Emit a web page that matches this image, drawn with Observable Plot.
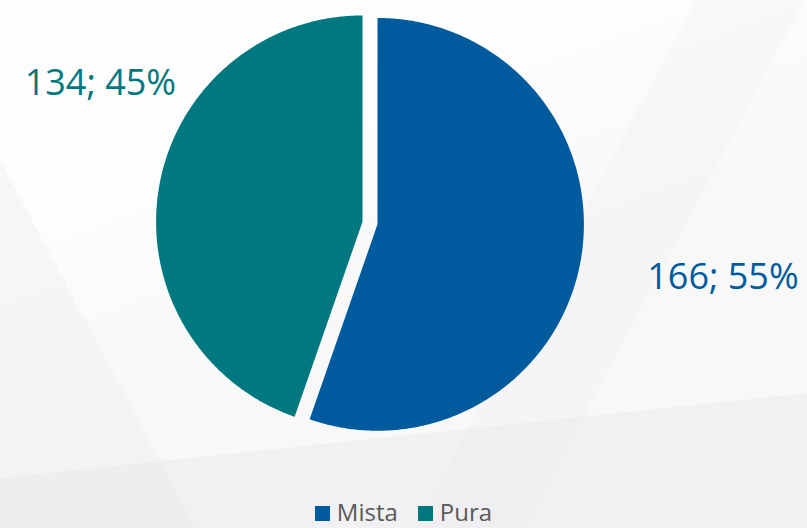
<!DOCTYPE html>
<html>
<head>
<meta charset="utf-8">
<script src="https://cdn.jsdelivr.net/npm/d3@7"></script>
<script src="https://cdn.jsdelivr.net/npm/@observablehq/plot@0.6"></script>
<style>
  html, body { margin: 0; padding: 0; }
  body {
    width: 807px; height: 528px; overflow: hidden;
    font-family: "Open Sans", sans-serif;
    background-color: #f8f8f9;
    background-image:
      linear-gradient(174deg, rgba(255,255,255,0) 78%, rgba(228,228,232,0.35) 78%),
      linear-gradient(118deg, rgba(255,255,255,0) 64%, rgba(238,238,242,0.3) 64%, rgba(238,238,242,0.3) 74%, rgba(255,255,255,0) 74%),
      linear-gradient(62deg, rgba(232,232,236,0.3) 18%, rgba(255,255,255,0) 18%),
      linear-gradient(160deg, rgba(255,255,255,0.7) 30%, rgba(255,255,255,0) 55%);
  }
  #chart svg { display: block; background: transparent; }
  #legend {
    width: 807px; height: 38px; box-sizing: border-box; padding-top: 11px;
    display: flex; justify-content: center; align-items: flex-start;
    font-size: 24px; color: #595959; line-height: 22px;
  }
  #legend .item { display: flex; align-items: center; height: 22px; margin: 0 10px; }
  #legend .sw { width: 15px; height: 15px; margin-right: 7px; margin-top: 3px; }
</style>
</head>
<body>
<div id="chart"></div>
<div id="legend"></div>
<script>
// ---- data ----
const categories = ["Mista", "Pura"];
const values = [166, 134];
const colors = ["#005b9e", "#00787f"];

// ---- layout ----
const W = 807, H = 490;
const R = 206.4;              // pie radius in px
const cx = 369.5, cy = 222.6; // pie centre in px
const explode = 7.6 / R;      // explosion distance in radius units
// label placement: angular shift (deg) from slice bisector and distance (radius units)
const labelPlacement = { Mista: { shift: -0.9, dist: 1.73 }, Pura: { shift: 17.7, dist: 1.47 } };

const total = d3.sum(values);
const arcs = d3.pie().sort(null)(values);

const slicePts = [];
const labels = [];
arcs.forEach((a, i) => {
  const cat = categories[i];
  const mid = (a.startAngle + a.endAngle) / 2;
  const ox = explode * Math.sin(mid), oy = explode * Math.cos(mid);
  const n = Math.ceil((a.endAngle - a.startAngle) / (Math.PI / 360));
  slicePts.push({ cat, x: ox, y: oy });
  for (let k = 0; k <= n; k++) {
    const t = a.startAngle + (a.endAngle - a.startAngle) * k / n;
    slicePts.push({ cat, x: ox + Math.sin(t), y: oy + Math.cos(t) });
  }
  slicePts.push({ cat, x: ox, y: oy });
  const p = labelPlacement[cat];
  const la = mid + p.shift * Math.PI / 180;
  labels.push({
    cat,
    x: p.dist * Math.sin(la),
    y: p.dist * Math.cos(la),
    text: `${values[i]}; ${Math.round(values[i] / total * 100)}%`
  });
});

const chart = Plot.plot({
  width: W, height: H,
  margin: 0,
  style: { background: "transparent" },
  x: { domain: [-cx / R, (W - cx) / R], axis: null },
  y: { domain: [-(H - cy) / R, cy / R], axis: null },
  color: { domain: categories, range: colors },
  marks: [
    Plot.line(slicePts, { x: "x", y: "y", z: "cat", fill: "cat", stroke: null, curve: "linear" }),
    Plot.text(labels, { x: "x", y: "y", text: "text", fill: "cat", fontSize: 36, fontFamily: "Open Sans", textAnchor: "middle" })
  ]
});
document.getElementById("chart").append(chart);

const legend = document.getElementById("legend");
categories.forEach((c, i) => {
  const item = document.createElement("div");
  item.className = "item";
  const sw = document.createElement("span");
  sw.className = "sw";
  sw.style.background = colors[i];
  const tx = document.createElement("span");
  tx.textContent = c;
  item.append(sw, tx);
  legend.append(item);
});
</script>
</body>
</html>
